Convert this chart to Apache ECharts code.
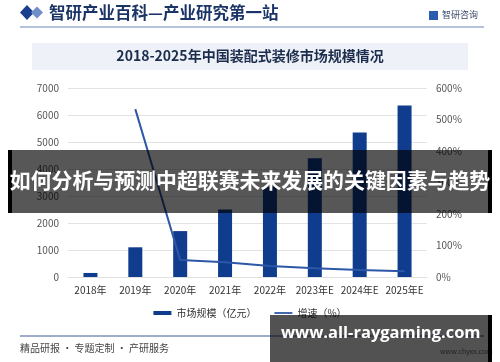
<!DOCTYPE html>
<html>
<head>
<meta charset="utf-8">
<script src="https://cdn.jsdelivr.net/npm/echarts@6/dist/echarts.min.js"></script>
<style>
html,body{margin:0;padding:0;background:#fff;}
#c{width:500px;height:362px;}
</style>
</head>
<body>
<div id="c"></div>
<script>
var categories = ['2018年','2019年','2020年','2021年','2022年','2023年E','2024年E','2025年E'];
var marketSize = [150, 1100, 1700, 2500, 3350, 4400, 5350, 6350];
var growthRate = [null, 533, 54, 47, 35, 28, 22, 18];
var leftTicks = {min: 0, max: 7000, interval: 1000};
var rightTicks = {min: 0, max: 600, interval: 100};

var FONT = '"Noto Sans CJK SC", "Noto Sans", sans-serif';
function txt(t, fill, size, weight, family) {
  return {text: t, fill: fill, fontSize: size, fontWeight: weight || 'normal', fontFamily: family || FONT};
}
var chart = echarts.init(document.getElementById('c'), null, {renderer: 'canvas'});
chart.setOption({
  backgroundColor: '#ffffff',
  textStyle: {fontFamily: FONT},
  grid: {left: 68, right: 73, top: 88, bottom: 85},
  legend: {
    top: 303, left: 'center', itemGap: 18, itemWidth: 18, itemHeight: 4,
    textStyle: {fontSize: 10, color: '#333', fontFamily: FONT},
    data: [{name: '市场规模（亿元）', icon: 'rect'}, {name: '增速（%）', icon: 'path://M0,0H20V2H0Z'}]
  },
  xAxis: {
    type: 'category', data: categories,
    axisLine: {show: true, lineStyle: {color: '#e0e0e0'}},
    axisTick: {show: false},
    axisLabel: {fontSize: 10, color: '#333', margin: 8, interval: 0, fontFamily: FONT}
  },
  yAxis: [{
    type: 'value', min: leftTicks.min, max: leftTicks.max, interval: leftTicks.interval,
    axisLine: {show: false}, axisTick: {show: false},
    axisLabel: {fontSize: 10, color: '#555', margin: 9, formatter: function (v) { return String(v); }},
    splitLine: {lineStyle: {color: '#e3e3e3'}}
  }, {
    type: 'value', min: rightTicks.min, max: rightTicks.max, interval: rightTicks.interval,
    axisLine: {show: false}, axisTick: {show: false},
    axisLabel: {fontSize: 10, color: '#555', margin: 9, formatter: '{value}%'},
    splitLine: {show: false}
  }],
  series: [{
    name: '市场规模（亿元）', type: 'bar', data: marketSize, barWidth: 14,
    itemStyle: {color: '#0f3c8c'}
  }, {
    name: '增速（%）', type: 'line', yAxisIndex: 1, data: growthRate,
    symbol: 'none', lineStyle: {color: '#2d57a8', width: 2}, itemStyle: {color: '#2d57a8'}
  }],
  graphic: [
    // header
    {type: 'polygon', z: 100, shape: {points: [[27,5],[34,12.5],[27,20],[20,12.5]]}, style: {fill: '#1a3f8f'}},
    {type: 'polygon', z: 100, shape: {points: [[37,6.5],[43,12.5],[37,18.5],[31,12.5]]}, style: {fill: '#6f8fc8'}},
    {type: 'text', z: 100, left: 49, top: 4, style: txt('智研产业百科—产业研究第一站', '#1b3467', 16.5, 'bold')},
    {type: 'rect', z: 100, shape: {x: 429, y: 11, width: 9, height: 9}, style: {fill: '#2a5db0'}},
    {type: 'text', z: 100, left: 442, top: 10, style: txt('智研咨询', '#3a4a6a', 9)},
    {type: 'line', z: 100, shape: {x1: 20, y1: 27, x2: 484, y2: 27}, style: {stroke: '#6a86b8', lineWidth: 1}},
    // title box
    {type: 'rect', z: 1, shape: {x: 32, y: 43, width: 436, height: 27}, style: {fill: '#eef2f8'}},
    {type: 'text', z: 100, left: 'center', top: 49, style: txt('2018-2025年中国装配式装修市场规模情况', '#1c2c4c', 14, 'bold')},
    // banner
    {type: 'rect', z: 100, shape: {x: 8, y: 150, width: 484, height: 63}, style: {fill: 'rgba(0,0,0,0.66)'}},
    {type: 'rect', z: 100, shape: {x: 8, y: 150, width: 4, height: 63}, style: {fill: '#000'}},
    {type: 'rect', z: 100, shape: {x: 488, y: 150, width: 4, height: 63}, style: {fill: '#000'}},
    {type: 'text', z: 101, left: 'center', top: 170, style: txt('如何分析与预测中超联赛未来发展的关键因素与趋势', '#ffffff', 20.9, 'bold')},
    // footer
    {type: 'line', z: 100, shape: {x1: 20, y1: 336, x2: 484, y2: 336}, style: {stroke: '#3a5a9a', lineWidth: 1}},
    {type: 'text', z: 100, left: 20, top: 343, style: txt('精品研报 · 专题定制 · 产研服务', '#444', 10)},
    {type: 'text', z: 100, left: 440, top: 348, style: txt('www.chyxx.com', '#666', 7)},
    {type: 'rect', z: 102, shape: {x: 270, y: 315, width: 222, height: 47}, style: {fill: 'rgba(0,0,0,0.68)'}},
    {type: 'rect', z: 102, shape: {x: 488, y: 315, width: 4, height: 47}, style: {fill: '#000'}},
    {type: 'text', z: 103, left: 281, top: 325, style: txt('www.all-raygaming.com', '#ffffff', 16.5, 'bold', '"Open Sans", "DejaVu Sans", sans-serif')}
  ]
});
</script>
</body>
</html>
